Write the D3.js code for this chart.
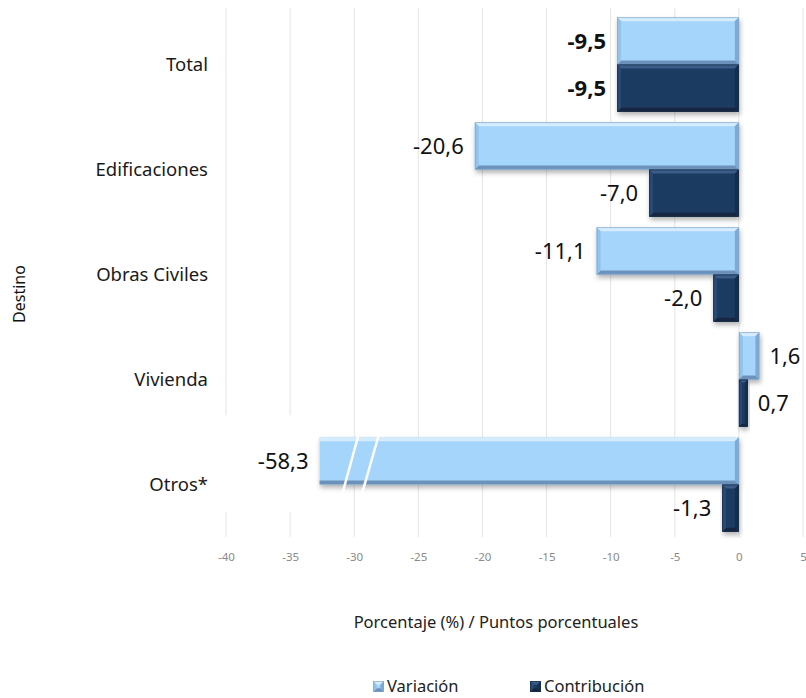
<!DOCTYPE html>
<html><head><meta charset="utf-8">
<script src="https://cdn.jsdelivr.net/npm/d3@7"></script>
<style>body{margin:0;background:#fff}svg{display:block}text{font-family:"Noto Sans",sans-serif}</style>
</head><body><svg id="c" width="806" height="698"></svg>
<script>
const categories = ["Total","Edificaciones","Obras Civiles","Vivienda","Otros*"];
const variacion = [-9.5,-20.6,-11.1,1.6,-58.3];
const contribucion = [-9.5,-7.0,-2.0,0.7,-1.3];
const seriesNames = ["Variación","Contribución"];
const xTicks = [-40,-35,-30,-25,-20,-15,-10,-5,0,5];
const axisBreak = -32.7;           // bars beyond this value are cut
const breakMarks = [-30.4,-28.7];  // positions of the two break slashes

const fmt = v => d3.format(".1f")(v).replace(".", ",").replace("\u2212","-");
const svg = d3.select("#c");
const x = d3.scaleLinear().domain([-40,5]).range([226,803]);
const y = d3.scaleBand().domain(categories).range([12,537]).paddingInner(0.1).paddingOuter(0.05);
const ys = d3.scaleBand().domain(seriesNames).range([0,y.bandwidth()]);

const defs = svg.append("defs");
const f = defs.append("filter").attr("id","sh").attr("x","-10%").attr("y","-20%").attr("width","130%").attr("height","160%");
f.append("feDropShadow").attr("dx",1).attr("dy",3).attr("stdDeviation",2.5).attr("flood-color","#000").attr("flood-opacity",0.3);

// grid
svg.append("g").selectAll("line").data(xTicks).join("line")
  .attr("x1",d=>x(d)).attr("x2",d=>x(d)).attr("y1",8).attr("y2",537)
  .attr("stroke","#e4e4e4").attr("stroke-width",1);

// axis tick labels
const ax = svg.append("g").attr("transform","translate(0,557)")
  .call(d3.axisBottom(x).tickValues(xTicks).tickSize(0).tickPadding(0).tickFormat(d=>String(d)));
ax.select(".domain").remove();
ax.selectAll("text").attr("fill","#8a8a8a").attr("font-size",11.5).attr("dy","0.35em");

const pal = {
  "Variación": {fill:"#a5d5fb", top:"#d4ecfe", left:"#93c2ea", right:"#7fa9d2", bottom:"#6c92bb", edge:"#7ea4c8"},
  "Contribución": {fill:"#1e3a60", top:"#3a5d88", left:"#274a74", right:"#172e4d", bottom:"#13263f", edge:"#152b48"}
};

const rows = [];
categories.forEach((c,i)=>{
  rows.push({cat:c, s:"Variación", v:variacion[i], i});
  rows.push({cat:c, s:"Contribución", v:contribucion[i], i});
});

// white box behind truncated label area
const otrosRow = rows.find(r=>r.v < axisBreak);
if (otrosRow) {
  svg.append("rect").attr("x", x(-40)-16).attr("y", y(otrosRow.cat)-22)
    .attr("width", x(axisBreak)-x(-40)+16).attr("height", 97).attr("fill","#fff");
}

function bevelBar(g, x0, x1, y0, y1, p, cutLeft, shadow){
  const b = Math.min(4,(x1-x0)/3,(y1-y0)/3);
  const grp = g.append("g");
  if (shadow) grp.attr("filter","url(#sh)");
  grp.append("rect").attr("x",x0).attr("y",y0).attr("width",x1-x0).attr("height",y1-y0).attr("fill",p.fill);
  const poly = (pts,col)=>grp.append("polygon").attr("points",pts.map(q=>q.join(",")).join(" ")).attr("fill",col);
  const lx = cutLeft ? x0 : x0+b;
  poly([[x0,y0],[x1,y0],[x1-b,y0+b],[lx,y0+b]],p.top);
  poly([[x0,y1],[x1,y1],[x1-b,y1-b],[lx,y1-b]],p.bottom);
  if (!cutLeft) poly([[x0,y0],[x0+b,y0+b],[x0+b,y1-b],[x0,y1]],p.left);
  poly([[x1,y0],[x1-b,y0+b],[x1-b,y1-b],[x1,y1]],p.right);
  if (!cutLeft) {
    grp.append("rect").attr("x",x0+0.5).attr("y",y0+0.5).attr("width",x1-x0-1).attr("height",y1-y0-1)
      .attr("fill","none").attr("stroke",p.edge).attr("stroke-width",0.6);
  }
}

const bars = svg.append("g");
rows.forEach(r=>{
  const vv = Math.max(r.v, axisBreak);
  const x0 = Math.min(x(0), x(vv)), x1 = Math.max(x(0), x(vv));
  const y0 = y(r.cat)+ys(r.s), y1 = y0+ys.bandwidth();
  bevelBar(bars, x0, x1, y0, y1, pal[r.s], r.v < axisBreak, true);
});

// break slashes
if (otrosRow) {
  const by = y(otrosRow.cat)+ys("Variación");
  const bh = ys.bandwidth();
  breakMarks.forEach((m,k)=>{
    svg.append("line").attr("x1",x(m)-10).attr("y1",by+bh+(k?13:21)).attr("x2",x(m)+11).attr("y2",by-(k?13:8))
      .attr("stroke","#fff").attr("stroke-width",2.5);
  });
}

// value labels
svg.append("g").selectAll("text").data(rows).join("text")
  .attr("x", r=>{ const vv=Math.max(r.v,axisBreak); return r.v<0 ? x(vv)-11 : x(vv)+10; })
  .attr("y", r=>y(r.cat)+ys(r.s)+ys.bandwidth()/2)
  .attr("dy","0.36em")
  .attr("text-anchor", r=>r.v<0?"end":"start")
  .attr("font-size",22)
  .attr("font-weight", r=>r.cat==="Total"?"bold":"normal")
  .attr("fill","#111")
  .text(r=>fmt(r.v));

// category labels
svg.append("g").selectAll("text").data(categories).join("text")
  .attr("x",208).attr("y",d=>y(d)+y.bandwidth()/2).attr("dy","0.36em")
  .attr("text-anchor","end").attr("font-size",18.5).attr("fill","#1a1a1a").text(d=>d);

// axis titles
svg.append("text").attr("transform","translate(25,294) rotate(-90)").attr("text-anchor","middle")
  .attr("font-size",16).attr("fill","#111").text("Destino");
svg.append("text").attr("x",496).attr("y",628).attr("text-anchor","middle")
  .attr("font-size",16.5).attr("fill","#222").text("Porcentaje (%) / Puntos porcentuales");

// legend
const lg = svg.append("g");
const legX = [373, 530];
seriesNames.forEach((s,i)=>{
  const gx = legX[i];
  bevelBar(lg, gx, gx+11, 681, 692, pal[s], false, false);
  lg.append("text").attr("x",gx+14).attr("y",686).attr("dy","0.36em").attr("font-size",16.5).attr("fill","#222").text(s);
});
</script></body></html>
